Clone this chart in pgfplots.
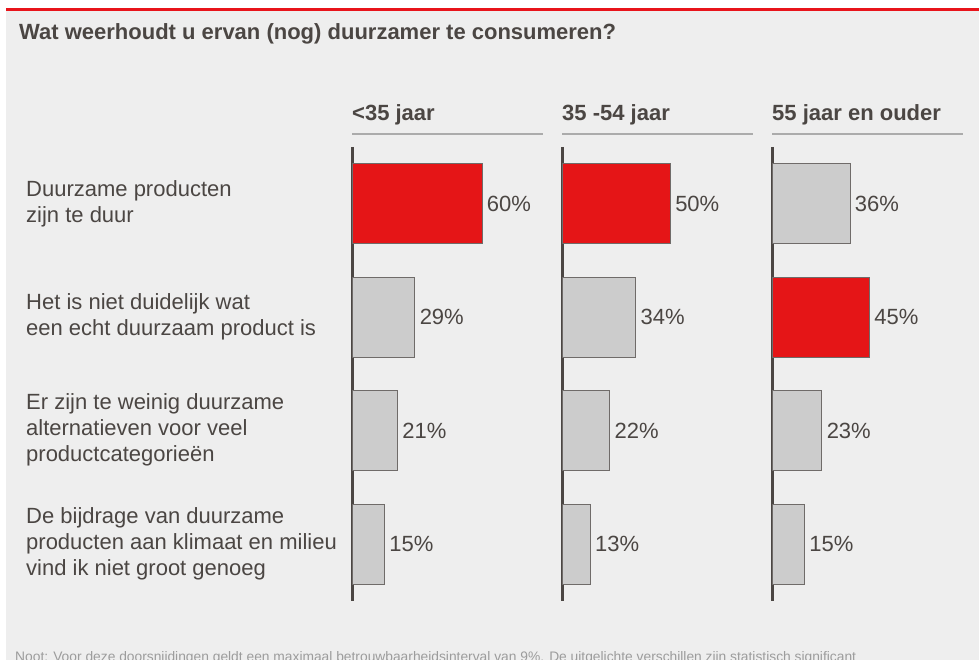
\documentclass[border=0pt]{standalone}
\usepackage{fontspec}
\setmainfont{Liberation Sans}
\usepackage{pgfplots}
\pgfplotsset{compat=1.18}
\definecolor{bg}{HTML}{EEEEEE}
\definecolor{topred}{HTML}{E8141B}
\definecolor{barred}{HTML}{E51517}
\definecolor{bargray}{HTML}{CCCCCC}
\definecolor{txt}{HTML}{4B4643}
\definecolor{rulegray}{HTML}{ABABAB}
\definecolor{notegray}{HTML}{9C9C9C}

\newcommand{\lbl}{\fontsize{22}{26}\selectfont}

\pgfplotsset{
  panel/.style={
    xbar,
    scale only axis,
    width=191pt, height=454pt,
    anchor=south west,
    xmin=0, xmax=88.14,
    ymin=0.5, ymax=4.5,
    y dir=reverse,
    bar width=80pt,
    bar shift=0pt,
    axis x line=none,
    axis y line*=left,
    y axis line style={-, line width=3pt, draw=txt},
    xtick=\empty, ytick=\empty,
    clip=false,
    point meta=x,
    /pgf/number format/assume math mode=true,
    nodes near coords={\pgfmathprintnumber{\pgfplotspointmeta}\%},
    nodes near coords style={anchor=west, inner sep=0pt, xshift=4.5pt,
      font=\lbl, text=txt},
  },
  graybar/.style={fill=bargray, draw=txt!80, line width=0.8pt},
  redbar/.style={fill=barred, draw=txt!80, line width=0.8pt},
}

\begin{document}
\begin{tikzpicture}
\useasboundingbox (0pt,0pt) rectangle (979pt,660pt);
\clip (0pt,0pt) rectangle (979pt,660pt);
\fill[white] (0pt,0pt) rectangle (979pt,660pt);
\fill[bg] (6pt,0pt) rectangle (979pt,650pt);
\fill[topred] (6pt,649pt) rectangle (979pt,652pt);

% title
\node[anchor=base west, inner sep=0pt, font=\lbl\bfseries, text=txt]
  at (19pt,620pt) {Wat weerhoudt u ervan (nog) duurzamer te consumeren?};

% category labels
\begin{scope}[every node/.style={anchor=west, align=left, inner sep=0pt,
    font=\lbl, text=txt}]
\node at (26pt,456.5pt) {Duurzame producten\\zijn te duur};
\node at (26pt,343.5pt) {Het is niet duidelijk wat\\een echt duurzaam product is};
\node at (26pt,230pt) {Er zijn te weinig duurzame\\alternatieven voor veel\\productcategorieën};
\node at (26pt,116.5pt) {De bijdrage van duurzame\\producten aan klimaat en milieu\\vind ik niet groot genoeg};
\end{scope}

% <35 jaar
\begin{axis}[panel, at={(352pt,59pt)}]
\addplot[redbar] coordinates {(60,1)};
\addplot[graybar] coordinates {(29,2) (21,3) (15,4)};
\end{axis}

% 35-54 jaar
\begin{axis}[panel, at={(562pt,59pt)}]
\addplot[redbar] coordinates {(50,1)};
\addplot[graybar] coordinates {(34,2) (22,3) (13,4)};
\end{axis}

% 55 jaar en ouder
\begin{axis}[panel, at={(772pt,59pt)}]
\addplot[graybar] coordinates {(36,1) (23,3) (15,4)};
\addplot[redbar] coordinates {(45,2)};
\end{axis}

% panel headers
\begin{scope}[every node/.style={anchor=base west, inner sep=0pt,
    font=\lbl\bfseries, text=txt}]
\node at (352pt,539pt) {<35 jaar};
\node at (562pt,539pt) {35 -54 jaar};
\node at (772pt,539pt) {55 jaar en ouder};
\end{scope}
\draw[rulegray, line width=1.3pt] (352pt,526pt) -- (543pt,526pt);
\draw[rulegray, line width=1.3pt] (562pt,526pt) -- (753pt,526pt);
\draw[rulegray, line width=1.3pt] (772pt,526pt) -- (963pt,526pt);

% note
\node[anchor=base west, inner sep=0pt, font=\fontsize{13.8}{16}\selectfont,
  text=notegray] at (15pt,-1.5pt)
  {Noot: Voor deze doorsnijdingen geldt een maximaal betrouwbaarheidsinterval van 9\%. De uitgelichte verschillen zijn statistisch significant};
\end{tikzpicture}
\end{document}
